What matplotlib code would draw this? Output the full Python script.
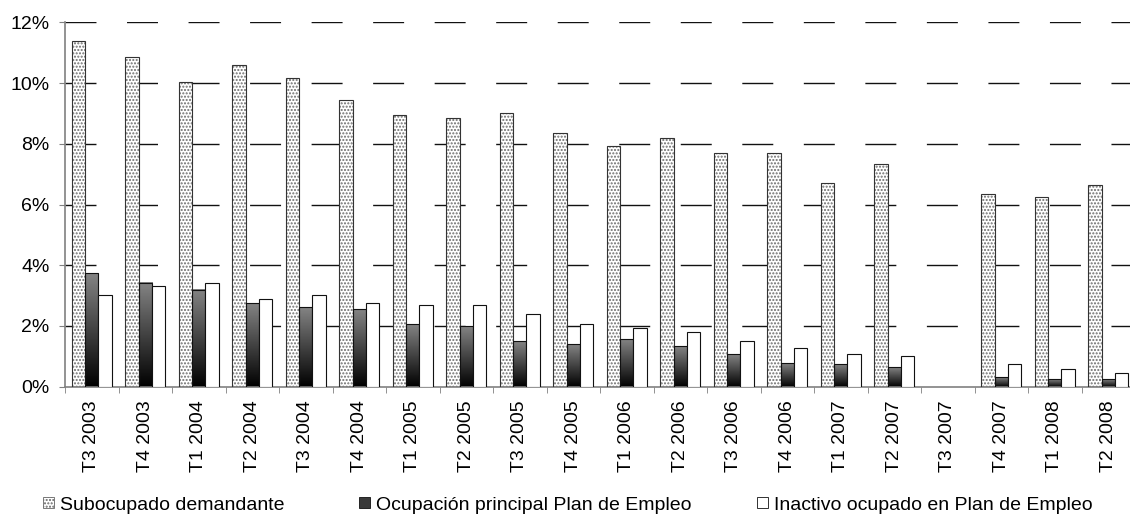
import numpy as np
import matplotlib
matplotlib.use("Agg")
import matplotlib.pyplot as plt
from matplotlib.patches import Patch
from matplotlib.colors import LinearSegmentedColormap
from matplotlib.ticker import FixedLocator

# Datos (%)
trimestres = ["T3 2003", "T4 2003", "T1 2004", "T2 2004", "T3 2004", "T4 2004",
              "T1 2005", "T2 2005", "T3 2005", "T4 2005", "T1 2006", "T2 2006",
              "T3 2006", "T4 2006", "T1 2007", "T2 2007", "T3 2007", "T4 2007",
              "T1 2008", "T2 2008"]
subocupado = [11.37, 10.87, 10.02, 10.58, 10.18, 9.44, 8.95, 8.84, 9.01, 8.37,
              7.94, 8.18, 7.68, 7.68, 6.70, 7.33, np.nan, 6.34, 6.26, 6.64]
ocupacion_plan = [3.74, 3.43, 3.20, 2.75, 2.62, 2.56, 2.06, 1.99, 1.50, 1.40,
                  1.56, 1.33, 1.07, 0.77, 0.75, 0.64, np.nan, 0.31, 0.24, 0.24]
inactivo_plan = [3.01, 3.33, 3.43, 2.88, 3.01, 2.75, 2.68, 2.68, 2.39, 2.06,
                 1.92, 1.81, 1.50, 1.26, 1.07, 1.00, np.nan, 0.76, 0.57, 0.44]
etiquetas = ["Subocupado demandante", "Ocupación principal Plan de Empleo",
             "Inactivo ocupado en Plan de Empleo"]

plt.rcParams['font.family'] = ['Liberation Sans', 'DejaVu Sans']
plt.rcParams['font.size'] = 14
plt.rcParams['hatch.linewidth'] = 1.0

W, H = 1130, 520
fig = plt.figure(figsize=(W / 100, H / 100), dpi=100)
ax = fig.add_axes([65 / W, 1 - 386.7 / H, 1070 / W, (386.7 - 22.3) / H])

x = np.arange(len(trimestres))
w = 0.25

# Subocupado: punteado
ax.bar(x - w, subocupado, w, color='white', edgecolor='#6e6e6e', hatch='.....',
       linewidth=0, zorder=2)
ax.bar(x - w, subocupado, w, fill=False, edgecolor='#333333', linewidth=0.8, zorder=3)

# Ocupacion principal: degradado gris -> negro
grad = np.linspace(0, 1, 256).reshape(-1, 1)
cmap = LinearSegmentedColormap.from_list('grad', ['#000000', '#848484'])
for xi, v in zip(x, ocupacion_plan):
    if np.isnan(v):
        continue
    ax.imshow(grad, extent=[xi - w / 2, xi + w / 2, 0, v], origin='lower',
              aspect='auto', cmap=cmap, zorder=2, interpolation='bilinear')
ax.bar(x, ocupacion_plan, w, fill=False, edgecolor='#111111', linewidth=0.8, zorder=3)

# Inactivo: blanco
ax.bar(x + w, inactivo_plan, w, color='white', edgecolor='#111111', linewidth=0.8, zorder=3)

ax.set_xlim(-0.5, len(trimestres) - 0.5)
ax.set_ylim(0, 12)
ax.set_aspect('auto')

ax.set_yticks(range(0, 13, 2))
ax.set_yticklabels([f"{v}%" for v in range(0, 13, 2)])
ax.set_xticks(x)
ax.set_xticklabels(trimestres, rotation=90)
ax.xaxis.set_minor_locator(FixedLocator(np.arange(-0.5, len(trimestres), 1)))
ax.tick_params(axis='x', which='major', length=0, pad=10)
ax.tick_params(axis='x', which='minor', length=4, direction='out', color='#808080')
ax.tick_params(axis='y', length=4, direction='out', color='#808080', pad=7)

ax.set_axisbelow(True)
ax.yaxis.grid(True, color='#111111', linewidth=1, linestyle=(0, (22.3, 22.0)))
ax.get_ygridlines()[0].set_visible(False)

for s in ['top', 'right']:
    ax.spines[s].set_visible(False)
for s in ['left', 'bottom']:
    ax.spines[s].set_color('#808080')
    ax.spines[s].set_linewidth(1.2)

handles = [
    Patch(facecolor='white', edgecolor='#666666', hatch='.....', linewidth=0.6),
    Patch(facecolor='#3a3a3a', edgecolor='#111111', linewidth=0.6),
    Patch(facecolor='white', edgecolor='#111111', linewidth=0.6),
]
pos_x = [43, 359, 757]
for h, lab, px in zip(handles, etiquetas, pos_x):
    fig.legend([h], [lab], loc='center left', bbox_to_anchor=(px / W, 1 - 505 / H),
               frameon=False, borderpad=0, borderaxespad=0, handlelength=0.55,
               handleheight=0.55, handletextpad=0.35, fontsize=14)

fig.savefig("out.png", dpi=100)
